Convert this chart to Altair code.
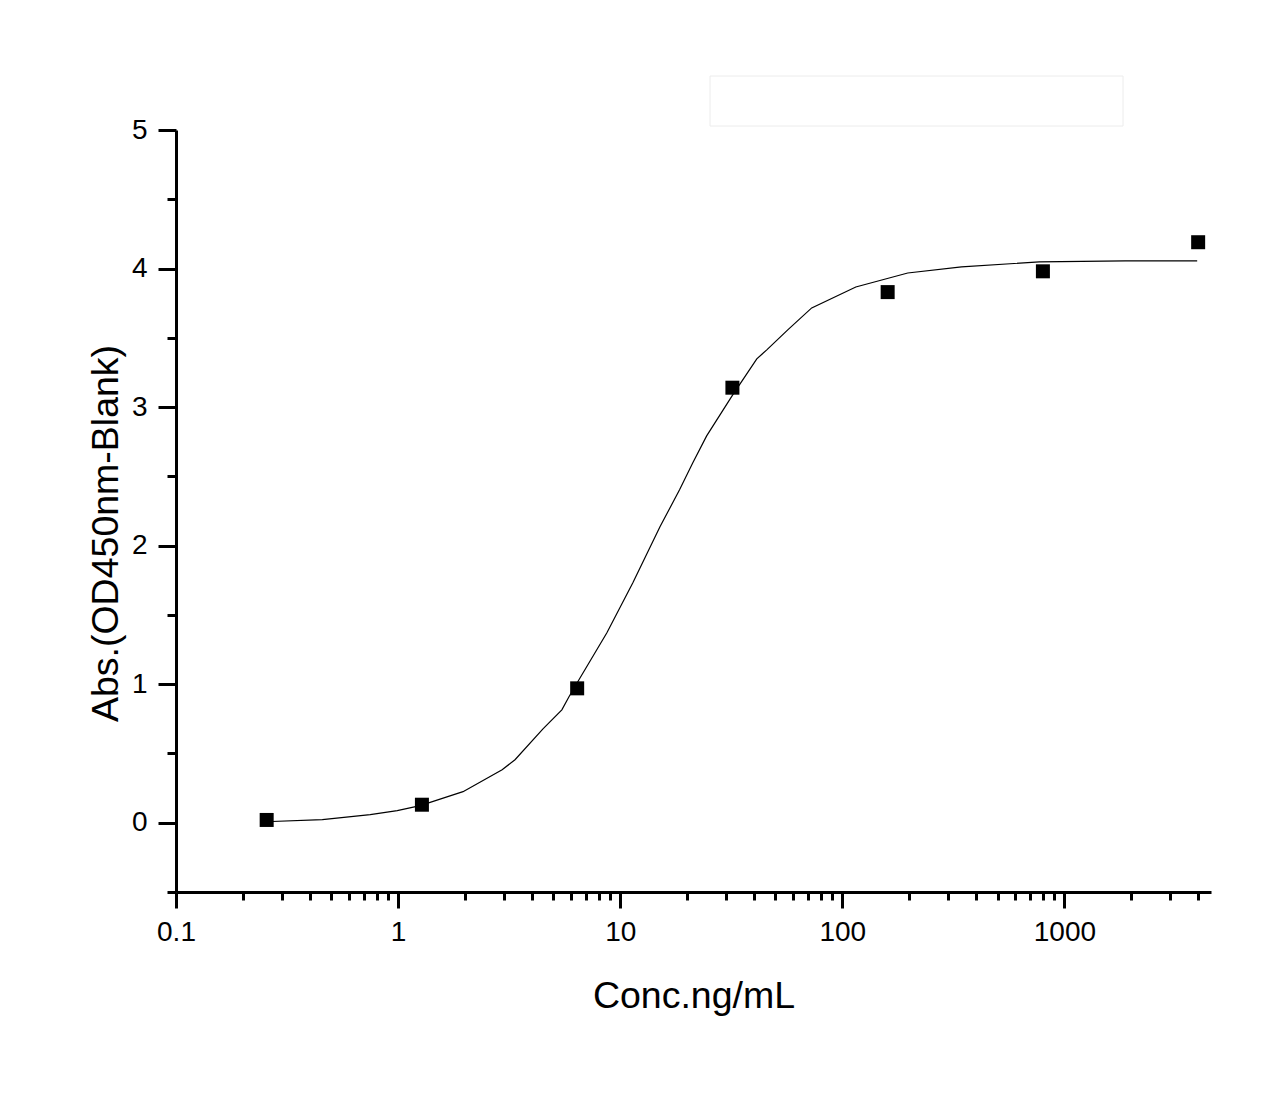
import altair as alt
import pandas as pd

# Measured points (Conc. ng/mL vs Abs)
conc = [0.256, 1.28, 6.4, 32, 160, 800, 4000]
absorb = [0.02, 0.13, 0.97, 3.14, 3.83, 3.98, 4.19]

# Fitted curve
curve_x = [0.252, 0.456, 0.749, 0.991, 1.257, 1.96, 2.94, 3.36, 4.49, 5.46, 5.88,
           6.52, 8.71, 11.4, 15.1, 18.5, 21.2, 24.5, 32.1, 41.2, 45.7, 56.8, 72.8,
           115, 197, 344, 771, 1880, 3960]
curve_y = [0.007, 0.022, 0.058, 0.087, 0.123, 0.224, 0.382, 0.455, 0.678, 0.815, 0.909,
           1.032, 1.371, 1.732, 2.136, 2.403, 2.597, 2.792, 3.088, 3.348, 3.413, 3.557, 3.716,
           3.867, 3.968, 4.012, 4.048, 4.055, 4.055]

x_ticks = []
for e in range(-1, 4):
    for m in range(1, 10):
        v = round(m * 10 ** e, 6)
        if v <= 4570:
            x_ticks.append(v)
y_ticks = [-0.5, 0, 0.5, 1, 1.5, 2, 2.5, 3, 3.5, 4, 4.5, 5]

pts = pd.DataFrame({"x": conc, "y": absorb})
crv = pd.DataFrame({"x": curve_x, "y": curve_y, "i": list(range(len(curve_x)))})

font = "Liberation Sans"

xmajor = "abs(log(datum.value)/LN10 - round(log(datum.value)/LN10)) < 0.001"
ymajor = "abs(datum.value - round(datum.value)) < 0.001"

x_scale = alt.Scale(type="log", domain=[0.1, 4570], nice=False)
y_scale = alt.Scale(domain=[-0.5, 5], nice=False, zero=False)

x_axis = alt.Axis(
    title="Conc.ng/mL", values=x_ticks, grid=False,
    labelExpr=f"{xmajor} ? format(datum.value, '~g') : ''",
    tickSize={"condition": {"test": xmajor, "value": 16}, "value": 8},
    tickWidth=3, tickColor="black", domainWidth=3, domainColor="black",
    labelFont=font, labelFontSize=28, labelColor="black", labelPadding=10,
    labelFlush=False, labelOverlap=False,
    titleFont=font, titleFontSize=37.5, titleFontWeight="normal", titleColor="black",
    titleY=115, titleBaseline="alphabetic",
)
y_axis = alt.Axis(
    title="Abs.(OD450nm-Blank)", values=y_ticks, grid=False,
    labelExpr=f"{ymajor} ? format(datum.value, 'd') : ''",
    tickSize={"condition": {"test": ymajor, "value": 18}, "value": 9},
    tickWidth=3, tickColor="black", domainWidth=3, domainColor="black",
    labelFont=font, labelFontSize=28, labelColor="black", labelPadding=11,
    labelFlush=False, labelOverlap=False,
    titleFont=font, titleFontSize=37.5, titleFontWeight="normal", titleColor="black",
    titleX=-59, titleY=403, titleBaseline="alphabetic", titleAngle=270,
)

line = alt.Chart(crv).mark_line(color="black", strokeWidth=1.2).encode(
    x=alt.X("x:Q", scale=x_scale, axis=x_axis),
    y=alt.Y("y:Q", scale=y_scale, axis=y_axis),
    order="i:Q",
)
points = alt.Chart(pts).mark_point(shape="square", filled=True, color="black",
                                   size=196, opacity=1).encode(
    x=alt.X("x:Q", scale=x_scale),
    y=alt.Y("y:Q", scale=y_scale),
)
legend_box = alt.Chart(pd.DataFrame({"k": [0]})).mark_rect(
    fill="white", stroke="#ececec", strokeWidth=1
).encode(x=alt.value(534), x2=alt.value(947), y=alt.value(-54), y2=alt.value(-4))

chart = alt.layer(legend_box, line, points).properties(
    width=1035, height=762,
    background="white",
    padding={"left": 168, "top": 122, "right": 60, "bottom": 150},
    autosize=alt.AutoSizeParams(type="none"),
).configure_view(strokeWidth=0, stroke="transparent")

chart.save("out.html", embed_options={"renderer": "svg", "actions": False})
